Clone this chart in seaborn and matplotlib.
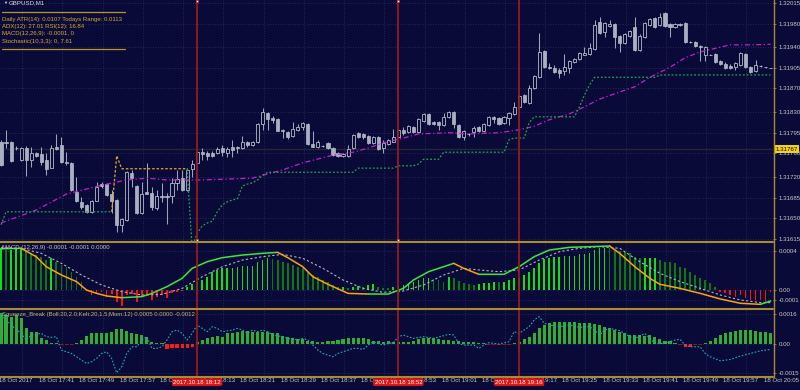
import numpy as np
import matplotlib
matplotlib.use("Agg")
import matplotlib.pyplot as plt
from matplotlib.lines import Line2D
from matplotlib.transforms import blended_transform_factory, ScaledTranslation
import seaborn as sns

sns.set_style("dark")
plt.rcParams['font.family'] = ['Liberation Sans', 'DejaVu Sans']

# ---------------- data ----------------
symbol = "GBPUSD,M1"
info_lines = ["Daily ATR(14): 0.0107 Todays Range: 0.0113",
              "ADX(12): 27.01 RSI(12): 16.84",
              "MACD(12,26,9): -0.0001, 0",
              "Stochastic(10,3,3): 0, 7.61"]
macd_title = "MACD (12,26,9) -0.0001 -0.0001 0.0000"
sq_title = "Squeeze_Break (Boll:20,2.0;Kelt:20,1.5;Mom:12) 0.0005 0.0000 -0.0012"

tick_bars = [0, 8, 16, 24, 32, 40, 48, 56, 64, 72, 80, 88, 96, 104, 112, 120, 128, 136, 144, 152]
tick_labels = ["18 Oct 2017", "18 Oct 17:41", "18 Oct 17:49", "18 Oct 17:57", "18 Oct 18:05",
               "18 Oct 18:13", "18 Oct 18:21", "18 Oct 18:29", "18 Oct 18:37", "18 Oct 18:45",
               "18 Oct 18:53", "18 Oct 19:01", "18 Oct 19:09", "18 Oct 19:17", "18 Oct 19:25",
               "18 Oct 19:33", "18 Oct 19:41", "18 Oct 19:49", "18 Oct 19:57", "18 Oct 20:05"]
price_levels = [1.32015, 1.31980, 1.31940, 1.31905, 1.31870, 1.31830, 1.31795,
                1.31760, 1.31720, 1.31685, 1.31650, 1.31615]
current_price = 1.31767
macd_levels = [0.0004, 0.0, -0.0001]
macd_level_labels = ["0.0004", "0.00", "-0.0001"]
sq_levels = [0.0016, 0.0, -0.0015]
sq_level_labels = ["0.0016", "0.00", "-0.0015"]
vline_bars = [39, 79, 103]
vline_labels = ["2017.10.18 18:12", "2017.10.18 18:52", "2017.10.18 19:16"]

open_ = [1.31779, 1.31779, 1.31779, 1.31769, 1.31749, 1.31769, 1.31749, 1.31761, 1.31759, 1.31749,
         1.31735, 1.31771, 1.31774, 1.31745, 1.31744, 1.31695, 1.31678, 1.31673, 1.31661, 1.31679,
         1.31708, 1.31708, 1.31691, 1.31681, 1.31639, 1.31647, 1.31727, 1.31705, 1.31659, 1.31695,
         1.31693, 1.31667, 1.31688, 1.31688, 1.31688, 1.31710, 1.31718, 1.31698, 1.31734, 1.31744,
         1.31762, 1.31761, 1.31761, 1.31761, 1.31769, 1.31761, 1.31771, 1.31771, 1.31769, 1.31779,
         1.31774, 1.31779, 1.31810, 1.31828, 1.31820, 1.31818, 1.31800, 1.31796, 1.31789, 1.31800,
         1.31805, 1.31810, 1.31776, 1.31771, 1.31773, 1.31778, 1.31769, 1.31761, 1.31756, 1.31756,
         1.31769, 1.31795, 1.31793, 1.31789, 1.31778, 1.31788, 1.31769, 1.31776, 1.31779, 1.31788,
         1.31800, 1.31796, 1.31805, 1.31796, 1.31815, 1.31827, 1.31813, 1.31813, 1.31808, 1.31822,
         1.31830, 1.31808, 1.31788, 1.31793, 1.31796, 1.31805, 1.31798, 1.31808, 1.31822, 1.31820,
         1.31812, 1.31820, 1.31827, 1.31839, 1.31859, 1.31845, 1.31871, 1.31889, 1.31934, 1.31906,
         1.31905, 1.31901, 1.31900, 1.31905, 1.31915, 1.31920, 1.31927, 1.31928, 1.31937, 1.31983,
         1.31966, 1.31976, 1.31979, 1.31959, 1.31947, 1.31959, 1.31974, 1.31935, 1.31957, 1.31978,
         1.31990, 1.31978, 1.31998, 1.31979, 1.31974, 1.31979, 1.31981, 1.31949, 1.31949, 1.31942,
         1.31927, 1.31927, 1.31928, 1.31917, 1.31912, 1.31908, 1.31906, 1.31910, 1.31928, 1.31906,
         1.31900, 1.31908, 1.31906, 1.31905]
high = [1.31783, 1.31800, 1.31781, 1.31773, 1.31771, 1.31773, 1.31771, 1.31762, 1.31771, 1.31761,
        1.31774, 1.31793, 1.31788, 1.31762, 1.31745, 1.31720, 1.31686, 1.31674, 1.31681, 1.31712,
        1.31712, 1.31710, 1.31698, 1.31683, 1.31651, 1.31730, 1.31732, 1.31706, 1.31712, 1.31744,
        1.31703, 1.31698, 1.31710, 1.31693, 1.31718, 1.31732, 1.31732, 1.31735, 1.31749, 1.31764,
        1.31769, 1.31764, 1.31764, 1.31771, 1.31774, 1.31771, 1.31783, 1.31773, 1.31789, 1.31781,
        1.31781, 1.31812, 1.31837, 1.31830, 1.31823, 1.31820, 1.31801, 1.31798, 1.31813, 1.31810,
        1.31813, 1.31812, 1.31798, 1.31783, 1.31774, 1.31779, 1.31771, 1.31762, 1.31761, 1.31774,
        1.31793, 1.31796, 1.31795, 1.31791, 1.31789, 1.31789, 1.31783, 1.31784, 1.31801, 1.31801,
        1.31805, 1.31808, 1.31806, 1.31820, 1.31828, 1.31828, 1.31815, 1.31815, 1.31828, 1.31832,
        1.31832, 1.31810, 1.31800, 1.31795, 1.31806, 1.31806, 1.31812, 1.31823, 1.31823, 1.31822,
        1.31823, 1.31830, 1.31847, 1.31859, 1.31861, 1.31876, 1.31893, 1.31964, 1.31935, 1.31913,
        1.31910, 1.31905, 1.31928, 1.31918, 1.31922, 1.31932, 1.31940, 1.31947, 1.31986, 1.31991,
        1.31983, 1.31986, 1.31981, 1.31961, 1.31964, 1.31969, 1.31991, 1.31962, 1.31983, 1.31990,
        1.31991, 1.31998, 1.32000, 1.31981, 1.31981, 1.31981, 1.31983, 1.31950, 1.31951, 1.31944,
        1.31942, 1.31928, 1.31930, 1.31918, 1.31915, 1.31912, 1.31915, 1.31932, 1.31930, 1.31908,
        1.31918, 1.31909, 1.31907, 1.31905]
low = [1.31739, 1.31769, 1.31745, 1.31766, 1.31747, 1.31722, 1.31737, 1.31754, 1.31740, 1.31723,
       1.31735, 1.31766, 1.31744, 1.31740, 1.31696, 1.31678, 1.31666, 1.31659, 1.31659, 1.31679,
       1.31701, 1.31688, 1.31659, 1.31627, 1.31627, 1.31645, 1.31703, 1.31657, 1.31657, 1.31691,
       1.31664, 1.31664, 1.31678, 1.31640, 1.31676, 1.31698, 1.31696, 1.31696, 1.31720, 1.31742,
       1.31749, 1.31749, 1.31754, 1.31759, 1.31756, 1.31754, 1.31754, 1.31761, 1.31767, 1.31771,
       1.31773, 1.31778, 1.31800, 1.31800, 1.31812, 1.31798, 1.31786, 1.31784, 1.31788, 1.31798,
       1.31800, 1.31774, 1.31771, 1.31769, 1.31771, 1.31767, 1.31756, 1.31754, 1.31754, 1.31754,
       1.31767, 1.31786, 1.31784, 1.31776, 1.31776, 1.31766, 1.31761, 1.31774, 1.31779, 1.31786,
       1.31791, 1.31795, 1.31795, 1.31795, 1.31813, 1.31808, 1.31808, 1.31800, 1.31806, 1.31820,
       1.31803, 1.31786, 1.31783, 1.31789, 1.31788, 1.31796, 1.31796, 1.31806, 1.31812, 1.31808,
       1.31810, 1.31808, 1.31825, 1.31837, 1.31845, 1.31844, 1.31869, 1.31888, 1.31905, 1.31903,
       1.31896, 1.31888, 1.31893, 1.31896, 1.31913, 1.31918, 1.31927, 1.31927, 1.31935, 1.31962,
       1.31957, 1.31974, 1.31939, 1.31932, 1.31945, 1.31957, 1.31934, 1.31934, 1.31956, 1.31976,
       1.31973, 1.31976, 1.31974, 1.31957, 1.31973, 1.31976, 1.31947, 1.31947, 1.31940, 1.31917,
       1.31917, 1.31926, 1.31913, 1.31910, 1.31903, 1.31903, 1.31901, 1.31908, 1.31905, 1.31896,
       1.31898, 1.31907, 1.31905, 1.31905]
close = [1.31740, 1.31778, 1.31747, 1.31769, 1.31769, 1.31749, 1.31761, 1.31756, 1.31745, 1.31734,
         1.31769, 1.31767, 1.31745, 1.31744, 1.31698, 1.31679, 1.31669, 1.31661, 1.31679, 1.31703,
         1.31705, 1.31690, 1.31679, 1.31639, 1.31649, 1.31728, 1.31718, 1.31659, 1.31691, 1.31691,
         1.31669, 1.31688, 1.31686, 1.31686, 1.31710, 1.31717, 1.31698, 1.31732, 1.31742, 1.31762,
         1.31759, 1.31756, 1.31756, 1.31767, 1.31762, 1.31767, 1.31766, 1.31769, 1.31779, 1.31774,
         1.31779, 1.31810, 1.31830, 1.31818, 1.31817, 1.31798, 1.31798, 1.31788, 1.31801, 1.31805,
         1.31812, 1.31776, 1.31771, 1.31779, 1.31773, 1.31769, 1.31757, 1.31756, 1.31759, 1.31767,
         1.31791, 1.31788, 1.31788, 1.31778, 1.31788, 1.31767, 1.31778, 1.31783, 1.31788, 1.31800,
         1.31795, 1.31806, 1.31796, 1.31818, 1.31827, 1.31810, 1.31810, 1.31808, 1.31822, 1.31830,
         1.31810, 1.31788, 1.31798, 1.31793, 1.31803, 1.31798, 1.31810, 1.31822, 1.31818, 1.31810,
         1.31822, 1.31828, 1.31839, 1.31857, 1.31847, 1.31871, 1.31891, 1.31932, 1.31906, 1.31905,
         1.31898, 1.31896, 1.31906, 1.31917, 1.31920, 1.31930, 1.31930, 1.31939, 1.31978, 1.31964,
         1.31981, 1.31979, 1.31957, 1.31947, 1.31962, 1.31967, 1.31935, 1.31959, 1.31981, 1.31988,
         1.31974, 1.31991, 1.31976, 1.31974, 1.31979, 1.31978, 1.31949, 1.31949, 1.31942, 1.31940,
         1.31940, 1.31927, 1.31915, 1.31912, 1.31905, 1.31905, 1.31913, 1.31930, 1.31906, 1.31898,
         1.31910, 1.31908, 1.31906, 1.31905]

ma_bars = [0, 7, 13, 20, 25, 29, 33, 40, 50, 53, 56, 60, 66, 70, 73, 76, 80, 83, 89, 93,
           99, 103, 106, 109, 113, 116, 119, 126, 129, 133, 136, 139, 143, 145, 149, 153]
ma_vals = [1.31642, 1.31664, 1.31691, 1.31706, 1.31715, 1.31718, 1.31715, 1.31715, 1.31718, 1.31725,
           1.31732, 1.31744, 1.31757, 1.31762, 1.31769, 1.31778, 1.31786, 1.31793, 1.31795, 1.31793,
           1.31795, 1.31800, 1.31806, 1.31817, 1.31827, 1.31839, 1.31852, 1.31873, 1.31889, 1.31906,
           1.31922, 1.31932, 1.31940, 1.31944, 1.31944, 1.31945]

trail = [1.31639, 1.31661, 1.31661, 1.31661, 1.31661, 1.31661, 1.31661, 1.31661, 1.31661, 1.31661,
         1.31661, 1.31661, 1.31661, 1.31661, 1.31661, 1.31661, 1.31661, 1.31661, 1.31661, 1.31661,
         1.31661, 1.31661, 1.31661, 1.31756, 1.31734, 1.31734, 1.31734, 1.31734, 1.31734, 1.31734,
         1.31734, 1.31734, 1.31734, 1.31734, 1.31734, 1.31734, 1.31734, 1.31734, 1.31600, 1.31625,
         1.31637, 1.31642, 1.31645, 1.31661, 1.31673, 1.31678, 1.31681, 1.31683, 1.31705, 1.31708,
         1.31710, 1.31715, 1.31723, 1.31728, 1.31728, 1.31728, 1.31728, 1.31728, 1.31728, 1.31728,
         1.31728, 1.31728, 1.31728, 1.31728, 1.31728, 1.31728, 1.31728, 1.31728, 1.31728, 1.31728,
         1.31728, 1.31735, 1.31735, 1.31735, 1.31735, 1.31735, 1.31735, 1.31735, 1.31735, 1.31739,
         1.31739, 1.31739, 1.31739, 1.31742, 1.31750, 1.31750, 1.31750, 1.31750, 1.31762, 1.31762,
         1.31762, 1.31762, 1.31762, 1.31762, 1.31762, 1.31762, 1.31762, 1.31762, 1.31762, 1.31762,
         1.31762, 1.31783, 1.31786, 1.31786, 1.31786, 1.31812, 1.31822, 1.31822, 1.31822, 1.31822,
         1.31822, 1.31822, 1.31822, 1.31822, 1.31822, 1.31839, 1.31859, 1.31876, 1.31889, 1.31889,
         1.31889, 1.31889, 1.31889, 1.31889, 1.31889, 1.31889, 1.31889, 1.31889, 1.31889, 1.31889,
         1.31889, 1.31893, 1.31893, 1.31893, 1.31893, 1.31893, 1.31893, 1.31893, 1.31893, 1.31893,
         1.31893, 1.31893, 1.31893, 1.31893, 1.31893, 1.31893, 1.31893, 1.31893, 1.31893, 1.31893,
         1.31893, 1.31893, 1.31893, 1.31893]
resist_from, resist_to = 22, 37

macd_hist = [0.000433, 0.000415, 0.000415, 0.000433, 0.000433, 0.000415, 0.000381, 0.000363, 0.000346, 0.000311,
             0.000329, 0.000294, 0.000260, 0.000242, 0.000190, 0.000138, 0.000087, -0.000010, -0.000052, -0.000045,
             -0.000024, -0.000069, -0.000045, -0.000121, -0.000163, -0.000052, -0.000045, -0.000121, -0.000069, -0.000052,
             -0.000104, -0.000069, -0.000052, -0.000080, -0.000035, -0.000017, -0.000010, 0.000035, 0.000059, 0.000087,
             0.000104, 0.000138, 0.000190, 0.000208, 0.000225, 0.000225, 0.000225, 0.000242, 0.000253, 0.000253,
             0.000253, 0.000294, 0.000311, 0.000329, 0.000322, 0.000311, 0.000294, 0.000277, 0.000260, 0.000242,
             0.000225, 0.000190, 0.000156, 0.000138, 0.000104, 0.000087, 0.000052, 0.000035, 0.000035, 0.000024,
             0.000035, 0.000045, 0.000035, 0.000052, 0.000059, 0.000035, 0.000024, 0.000017, 0.000035, 0.000052,
             0.000052, 0.000069, 0.000087, 0.000104, 0.000121, 0.000128, 0.000114, 0.000104, 0.000087, 0.000138,
             0.000121, 0.000093, 0.000069, 0.000059, 0.000052, 0.000062, 0.000069, 0.000076, 0.000087, 0.000080,
             0.000087, 0.000104, 0.000121, 0.000128, 0.000156, 0.000190, 0.000225, 0.000277, 0.000322, 0.000336,
             0.000346, 0.000346, 0.000356, 0.000356, 0.000356, 0.000370, 0.000370, 0.000381, 0.000415, 0.000433,
             0.000439, 0.000433, 0.000415, 0.000405, 0.000398, 0.000381, 0.000346, 0.000329, 0.000336, 0.000336,
             0.000336, 0.000311, 0.000294, 0.000287, 0.000277, 0.000242, 0.000225, 0.000190, 0.000156, 0.000121,
             0.000104, 0.000069, 0.000035, -0.000017, -0.000035, -0.000052, -0.000069, -0.000052, -0.000087, -0.000104,
             -0.000104, -0.000104, -0.000121, -0.000017]

macd_bars = [0, 4, 7, 9, 12, 15, 17, 19, 21, 24, 28, 30, 33, 36, 38, 41, 44, 48, 52, 55,
             57, 60, 62, 65, 69, 73, 77, 80, 82, 85, 88, 90, 92, 95, 100, 103, 106, 109, 113, 117,
             121, 123, 126, 129, 131, 135, 139, 143, 147, 151, 153]
macd_vals = [0.000428, 0.000433, 0.000346, 0.000242, 0.000156, 0.000087, 0.0, -0.000035, -0.000062, -0.000080,
             -0.000069, -0.000035, 0.000035, 0.000121, 0.000225, 0.000294, 0.000336, 0.000363, 0.000381, 0.000391,
             0.000336, 0.000242, 0.000138, 0.000059, -0.000035, -0.000042, -0.000042, 0.000017, 0.000104, 0.000190,
             0.000242, 0.000277, 0.000225, 0.000163, 0.000163, 0.000242, 0.000346, 0.000415, 0.000443, 0.000450,
             0.000457, 0.000381, 0.000242, 0.000121, 0.000059, 0.000017, -0.000035, -0.000093, -0.000138, -0.000149,
             -0.000114]
sig_bars = [0, 4, 8, 12, 16, 20, 24, 28, 32, 36, 40, 44, 48, 52, 56, 60, 64, 68, 72, 76,
            80, 84, 88, 92, 95, 99, 103, 107, 111, 115, 119, 123, 127, 131, 135, 139, 143, 147, 151, 153]
sig_vals = [0.000440, 0.000433, 0.000381, 0.000277, 0.000156, 0.000052, -0.000017, -0.000052, -0.000045, 0.000017,
            0.000138, 0.000242, 0.000311, 0.000346, 0.000370, 0.000329, 0.000225, 0.000104, 0.000017, -0.000024,
            -0.000010, 0.000052, 0.000156, 0.000225, 0.000208, 0.000190, 0.000208, 0.000311, 0.000398, 0.000433,
            0.000450, 0.000433, 0.000294, 0.000173, 0.000087, 0.000017, -0.000052, -0.000104, -0.000131, -0.000131]

sq_hist = [0.001628, 0.00154, 0.001453, 0.00154, 0.001365, 0.00084, 0.000665, 0.000665, 0.000315, 0.000228,
           0.000088, 0.000053, -0.00003, -0.00003, -0.00003, 0.000088, 0.000228, 0.000438, 0.000578, 0.000578,
           0.000578, 0.000613, 0.000665, 0.000788, 0.000788, 0.000718, 0.000613, 0.000543, 0.00049, 0.000403,
           0.00014, 0.000088, 0.000088, -0.000263, -0.00021, -0.00021, -0.00021, -0.00021, -0.000123, 0.00014,
           0.000228, 0.000315, 0.000403, 0.000438, 0.000368, 0.000578, 0.000613, 0.000665, 0.000718, 0.000718,
           0.000665, 0.000665, 0.00063, 0.00063, 0.000578, 0.000578, 0.000438, 0.000368, 0.000315, 0.000263,
           0.000263, 0.000193, 0.000193, 0.00014, 0.00014, 0.000193, 0.000193, 0.000228, 0.000263, 0.000315,
           0.000315, 0.000315, 0.000315, 0.000263, 0.000193, 0.000193, 0.00014, 0.000193, 0.00014, 0.00014,
           0.00014, 0.00014, 0.000193, 0.000263, 0.000315, 0.000315, 0.000315, 0.000263, 0.000228, 0.000228,
           0.000193, 0.000193, 0.00014, 0.00014, 0.00014, 0.000088, 0.000053, -0.00003, -0.00005, -0.00005,
           -0.00005, -0.00003, 0.000088, 0.00014, 0.000263, 0.000403, 0.000578, 0.00084, 0.001015, 0.001138,
           0.00119, 0.00119, 0.00119, 0.00119, 0.001155, 0.001138, 0.001103, 0.001103, 0.001068, 0.001015,
           0.000928, 0.00084, 0.000753, 0.000665, 0.000578, 0.00049, 0.00049, 0.00049, 0.000438, 0.00049,
           0.000368, 0.000263, 0.000193, 0.000193, 0.000088, -0.00003, -0.000123, -0.000123, -0.000035, -0.00003,
           0.000088, 0.000193, 0.000315, 0.00049, 0.000578, 0.000665, 0.000718, 0.000753, 0.000753, 0.000753,
           0.000718, 0.000665, 0.00063, 0.000578]

mom_bars = [0, 2, 4, 5, 6, 8, 9, 10, 11, 12, 14, 16, 17, 18, 19, 20, 21, 22, 23, 24,
            25, 26, 27, 28, 29, 30, 31, 32, 33, 34, 35, 36, 37, 38, 39, 40, 41, 42, 43, 44,
            46, 47, 48, 49, 50, 51, 52, 53, 54, 56, 57, 59, 60, 61, 62, 63, 64, 65, 66, 67,
            68, 69, 70, 71, 72, 73, 74, 75, 76, 77, 78, 79,
            80, 82, 84, 86, 88, 89, 90, 91, 92, 94, 95, 96, 97, 99, 101, 102, 103, 105, 106, 107,
            108, 110, 111, 113, 115, 117, 118, 119, 120, 121, 123, 125, 126, 128, 130, 132, 134, 135, 136, 137,
            139, 140, 141, 143, 145, 147, 149, 151, 153]
mom_vals = [0.00154, 0.001015, 0.000578, 0.000228, 0.00049, 0.000578, 0.000403, 0.000368, 0.000403, -0.000298,
            -0.000473, -0.000823, -0.000998, -0.00091, -0.000735, -0.000473, -0.000385, -0.000735, -0.001488, -0.001173,
            -0.000473, -0.000123, -0.000123, 0.000228, 0.000403, -0.00021, -0.00021, -0.000123, 0.000228, 0.000665,
            0.000753, 0.000578, 0.000228, 0.000578, 0.001015, 0.00084, 0.000665, 0.000928, 0.00084, 0.000665,
            0.000753, 0.00084, 0.000753, 0.000578, 0.000753, 0.000665, 0.000753, 0.000665, 0.00049, 0.000403,
            0.000315, 0.000228, 0.000315, 0.000228, -0.000035, -0.000298, -0.000473, -0.00056, -0.000648, -0.000473,
            -0.000385, -0.000298, -0.00021, -0.00021, -0.000263, -0.000035, 0.00014, 0.000053, -0.000035, 0.000053,
            0.000088, 0.000403,
            0.00049, 0.000315, 0.000403, 0.000315, 0.000455, 0.000525, 0.00049, 0.000053, -0.000035, -0.000035,
            -0.00021, -0.000035, 0.000088, 0.000018, 0.00014, 0.000665, 0.000578, 0.000928, 0.001278, 0.001453,
            0.001103, 0.000963, 0.000928, 0.001015, 0.000893, 0.000928, 0.000753, 0.00049, 0.000753, 0.00084,
            0.000718, 0.000403, 0.000315, 0.000578, 0.000053, 0.000053, 0.000228, 0.000263, -0.000035, -0.000123,
            -0.000123, -0.000473, -0.000648, -0.000858, -0.000788, -0.000613, -0.000473, -0.000333, -0.000263]

# ---------------- style ----------------
W, H = 800, 390
BG = '#0a0a38'
GRID = '#2c3160'
GOLD = '#a88c30'
TXT = '#c8c8c8'
BEAR_FILL = '#a8b0c2'
CANDLE_EDGE = '#b4bccb'
WICK = '#9ea6b6'

fig = plt.figure(figsize=(W / 100, H / 100), dpi=100, facecolor=BG)


def fy(y):
    return 1 - y / H


def add_ax(y0, y1):
    ax = fig.add_axes([0, fy(y1), 773 / W, (y1 - y0) / H])
    ax.set_facecolor(BG)
    for s in ax.spines.values():
        s.set_visible(False)
    ax.grid(False)
    ax.set_xlim(-1 / 5.03, 772 / 5.03)
    return ax


ax_main = add_ax(0, 241)
ax_macd = add_ax(241, 308)
ax_sq = add_ax(308, 376)

ax_main.set_ylim(1.316115, 1.32020)
ax_macd.set_ylim(-0.000187, 0.000509)
ax_sq.set_ylim(-0.001654, 0.001906)

n = len(close)
bars = np.arange(n)
grid_bars = np.arange(4.2, n, 8)


def style_y(ax, levels, labels):
    ax.yaxis.tick_right()
    ax.set_yticks(levels)
    ax.set_yticklabels(labels)
    ax.tick_params(axis='y', colors=TXT, labelsize=4.4, length=2, pad=2, width=0.6)
    ax.tick_params(axis='y', color=GOLD)
    for lv in levels:
        ax.axhline(lv, color=GRID, lw=0.6, ls=(0, (1, 2)), zorder=0.5)
    for g in grid_bars:
        ax.axvline(g, color=GRID, lw=0.6, ls=(0, (1, 2)), zorder=0.5)


style_y(ax_main, price_levels, [f"{p:.5f}" for p in price_levels])
style_y(ax_macd, macd_levels, macd_level_labels)
style_y(ax_sq, sq_levels, sq_level_labels)
ax_main.set_xticks([])
ax_macd.set_xticks([])


def sline(ax, x, y, **kw):
    sns.lineplot(x=np.asarray(x, float), y=np.asarray(y, float), ax=ax,
                 legend=False, estimator=None, sort=False, **kw)


# ---------------- main panel ----------------
o = np.array(open_); c = np.array(close); h = np.array(high); l = np.array(low)
ax_main.axhline(current_price, color='#24243a', lw=1.0, zorder=1)
ax_main.vlines(bars, l, h, color=WICK, lw=0.75, zorder=3)
bull = c >= o
body_lo = np.minimum(o, c)
body_h = np.abs(c - o)
ax_main.bar(bars[bull], body_h[bull], bottom=body_lo[bull], width=0.62,
            color=BG, edgecolor=CANDLE_EDGE, linewidth=0.6, zorder=4)
ax_main.bar(bars[~bull], body_h[~bull], bottom=body_lo[~bull], width=0.62,
            color=BEAR_FILL, edgecolor=CANDLE_EDGE, linewidth=0.5, zorder=4)

sline(ax_main, ma_bars, ma_vals, color='#c21fc8', lw=0.9, linestyle=(0, (4, 2, 1, 2)), zorder=5)
tr = np.array(trail)
sline(ax_main, bars[:resist_from + 1], tr[:resist_from + 1], color='#22a44a', lw=0.9,
      linestyle=(0, (1.5, 1.5)), zorder=5)
sline(ax_main, bars[resist_from:resist_to + 1], tr[resist_from:resist_to + 1], color='#e6a624', lw=0.9,
      linestyle=(0, (2, 1.5)), zorder=5)
sline(ax_main, bars[resist_to:], tr[resist_to:], color='#22a44a', lw=0.9,
      linestyle=(0, (1.5, 1.5)), zorder=5)

# current price label
btr = blended_transform_factory(ax_main.transAxes, ax_main.transData)
ax_main.text(1.003, current_price, f"{current_price:.5f}", transform=btr, ha='left', va='center',
             fontsize=4.4, color='#000000', zorder=10, clip_on=False,
             bbox=dict(boxstyle='square,pad=0.25', fc='#f2d21a', ec='none'))

# ---------------- MACD panel ----------------
mh = np.array(macd_hist)
prev = np.concatenate([[mh[0]], mh[:-1]])
mcols = np.where(mh < 0, '#ff1010', np.where(mh >= prev, '#10e010', '#0a7a0a'))
ax_macd.bar(bars, mh, width=0.34, color=mcols, linewidth=0, zorder=2)
sline(ax_macd, sig_bars, sig_vals, color='#b4b4c4', lw=0.8, linestyle=(0, (2, 2)), zorder=3)
mb = np.array(macd_bars, float); mv = np.array(macd_vals)
seg_col = np.where(np.diff(mv) >= 0, '#3ee63e', '#ffa20a')
start = 0
for i in range(1, len(seg_col) + 1):
    if i == len(seg_col) or seg_col[i] != seg_col[start]:
        sline(ax_macd, mb[start:i + 1], mv[start:i + 1], color=seg_col[start], lw=1.1, zorder=4)
        start = i

# ---------------- Squeeze panel ----------------
sh = np.array(sq_hist)
scols = np.where(sh >= 0, '#2fae2f', np.where(sh < -0.0001, '#ff1a1a', '#a01010'))
ax_sq.bar(bars, sh, width=0.62, color=scols, linewidth=0, zorder=2)
sline(ax_sq, mom_bars, mom_vals, color='#22aabb', lw=0.8, linestyle=(0, (1.5, 1.5)), zorder=3)

ax_sq.set_xticks(tick_bars)
ax_sq.set_xticklabels(tick_labels)
ax_sq.tick_params(axis='x', colors=TXT, labelsize=4.4, length=0, pad=1.6)
shift = ScaledTranslation(-0.02, 0, fig.dpi_scale_trans)
for lbl in ax_sq.get_xticklabels():
    lbl.set_ha('left')
    lbl.set_transform(lbl.get_transform() + shift)

# vertical time lines
for ax in (ax_main, ax_macd, ax_sq):
    for vb in vline_bars:
        ax.axvline(vb, color='#9a1a1a', lw=1.3, zorder=6)
bt = blended_transform_factory(ax_sq.transData, ax_sq.transAxes)
for vb, lab in zip(vline_bars, vline_labels):
    ax_sq.text(vb, -0.09, lab, transform=bt, ha='center', va='center', fontsize=4.4,
               color='white', zorder=10, clip_on=False,
               bbox=dict(boxstyle='round,pad=0.22', fc='#e01414', ec='none'))
for vb in vline_bars[:2]:
    ax_main.scatter([vb, vb], [1.32019, 1.316125], marker='s', s=3, c='white',
                    edgecolors='#d02020', linewidths=0.4, zorder=8, clip_on=False)

# panel titles
ax_macd.text(0.003, 0.9, macd_title, transform=ax_macd.transAxes, fontsize=4.3, color=TXT,
             ha='left', va='center', zorder=7)
ax_sq.text(0.003, 0.91, sq_title, transform=ax_sq.transAxes, fontsize=4.3, color='#c2ba7c',
           ha='left', va='center', zorder=7)

# info block (top-left)
fig.text(3 / W, fy(3.2), "\u25BC", fontsize=3, color='#e0e0e0', va='center', ha='left')
fig.text(9 / W, fy(3.2), symbol, fontsize=4.4, color='#e0e0e0', va='center', ha='left')
for yy in (12, 49):
    fig.add_artist(Line2D([2 / W, 125 / W], [fy(yy), fy(yy)], color='#b8962c', lw=0.9))
for yy, t in zip((19, 26.5, 34, 41.5), info_lines):
    fig.text(2 / W, fy(yy), t, fontsize=4.3, color='#d8ac2c', va='center', ha='left')

# panel separators and right axis line
for yy in (241.5, 308.5, 376.5):
    fig.add_artist(Line2D([0, 773 / W], [fy(yy), fy(yy)], color=GOLD, lw=1.5))
fig.add_artist(Line2D([773.5 / W, 773.5 / W], [fy(0), fy(377)], color=GOLD, lw=1.0))

fig.savefig("out.png", dpi=100, facecolor=BG)
